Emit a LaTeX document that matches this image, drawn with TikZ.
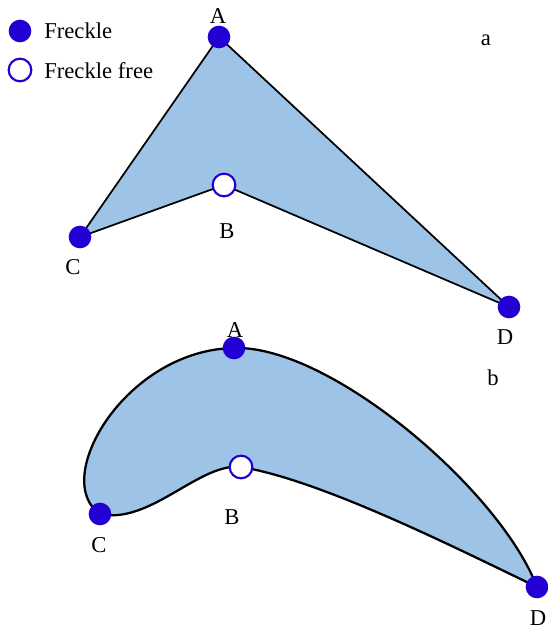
\documentclass[tikz,border=0pt]{standalone}
\usepackage{fontspec}
\setmainfont{Liberation Serif}
\usetikzlibrary{positioning}
\definecolor{freckleblue}{RGB}{34,0,212}
\definecolor{skinblue}{RGB}{157,195,230}

\begin{document}
\begin{tikzpicture}[
  x=0.75pt, y=-0.75pt,
  font=\fontsize{17}{19}\selectfont,
  freckle/.style={circle, fill=freckleblue, inner sep=0pt, minimum size=17pt},
  nofreckle/.style={circle, draw=freckleblue, fill=white, line width=1.6pt, inner sep=0pt, minimum size=17pt},
  lbl/.style={anchor=base, inner sep=0pt},
  outline/.style={draw=black, fill=skinblue, line join=round}
]
\useasboundingbox (0,0) rectangle (548,630);
% legend
\node[freckle]   (keyfull) at (20,31) {};
\node[nofreckle] (keyfree) at (20,70) {};
\node[anchor=base west, inner sep=0pt] (keyfulltxt) at (44,39) {Freckle};
\node[anchor=base west, inner sep=0pt] (keyfreetxt) at (44,79) {Freckle free};
% panel a
\coordinate (aA) at (219,37);
\coordinate (aB) at (224,185);
\coordinate (aC) at (80,237);
\coordinate (aD) at (509,307);
\path[outline, line width=1.3pt] (aA) -- (aC) -- (aB) -- (aD) -- cycle;
\node[freckle]   (dotaA) at (aA) {};
\node[nofreckle] (dotaB) at (aB) {};
\node[freckle]   (dotaC) at (aC) {};
\node[freckle]   (dotaD) at (aD) {};
\node[lbl] (labaA) at (218,24) {A};
\node[lbl] (labaB) at (227,239) {B};
\node[lbl] (labaC) at (73,275) {C};
\node[lbl] (labaD) at (505,344) {D};
\node[lbl] (panela) at (486,46) {a};
% panel b
\coordinate (bA) at (234,348);
\coordinate (bB) at (241,467);
\coordinate (bC) at (100,514);
\coordinate (bD) at (537,587);
\path[outline, line width=1.7pt] (bD) .. controls (500,490) and (330,345) .. (bA)
  .. controls (125,350) and (50,480) .. (bC)
  .. controls (150,525) and (200,462) .. (bB)
  .. controls (320,480) and (450,545) .. (bD) -- cycle;
\node[freckle]   (dotbA) at (bA) {};
\node[nofreckle] (dotbB) at (bB) {};
\node[freckle]   (dotbC) at (bC) {};
\node[freckle]   (dotbD) at (bD) {};
\node[lbl] (labbA) at (235,337) {A};
\node[lbl] (labbB) at (232,524) {B};
\node[lbl] (labbC) at (99,552) {C};
\node[lbl] (labbD) at (538,625) {D};
\node[lbl] (panelb) at (493,385) {b};
\end{tikzpicture}
\end{document}
